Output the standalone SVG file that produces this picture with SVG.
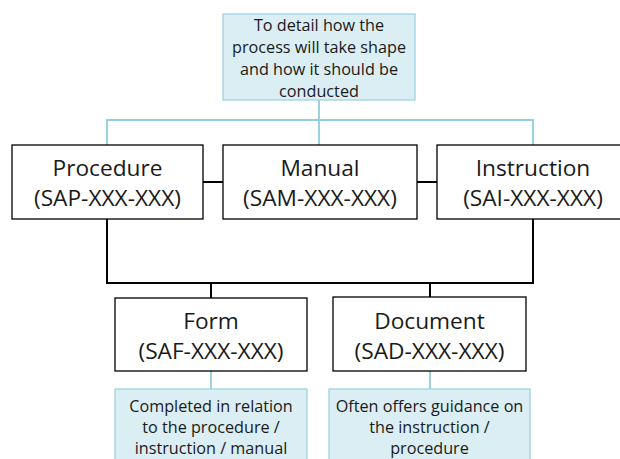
<svg xmlns="http://www.w3.org/2000/svg" width="620" height="459" viewBox="0 0 620 459">
<style>
.box{fill:#ffffff;stroke:#000000;stroke-width:1.3}
.note{fill:#DAEEF3;stroke:#9DD3E0;stroke-width:1.3}
.bl{fill:none;stroke:#000000;stroke-width:2}
.lb{fill:none;stroke:#92CDDC;stroke-width:1.8}
.t{font-family:"Open Sans","Noto Sans",sans-serif;font-size:22.7px;fill:#1a1a1a;text-anchor:middle}
.s{font-family:"Open Sans","Noto Sans",sans-serif;font-size:16.2px;fill:#1a1a1a;text-anchor:middle}
</style>
<rect width="620" height="459" fill="#ffffff"/>
<g id="connectors">
<polyline class="lb" points="107,145 107,120 533,120 533,145"/>
<line class="lb" x1="319" y1="100" x2="319" y2="145"/>
<line class="lb" x1="211" y1="371" x2="211" y2="389"/>
<line class="lb" x1="430" y1="371" x2="430" y2="389"/>
<line class="bl" x1="203" y1="182" x2="223" y2="182"/>
<line class="bl" x1="417" y1="182" x2="437" y2="182"/>
<polyline class="bl" points="107,219 107,283 533,283 533,219"/>
<line class="bl" x1="211" y1="283" x2="211" y2="298"/>
<line class="bl" x1="430" y1="283" x2="430" y2="297"/>
</g>
<g id="purpose">
<rect class="note" x="223" y="14" width="192" height="86"/>
<text class="s" x="319" y="31">To detail how the</text>
<text class="s" x="319" y="53">process will take shape</text>
<text class="s" x="319" y="75">and how it should be</text>
<text class="s" x="319" y="97">conducted</text>
</g>
<g id="procedure">
<rect class="box" x="12" y="145" width="191" height="74"/>
<text class="t" x="107.5" y="176">Procedure</text>
<text class="t" x="107.5" y="206">(SAP-XXX-XXX)</text>
</g>
<g id="manual">
<rect class="box" x="223" y="145" width="194" height="74"/>
<text class="t" x="320" y="176">Manual</text>
<text class="t" x="320" y="206">(SAM-XXX-XXX)</text>
</g>
<g id="instruction">
<rect class="box" x="437" y="145" width="193" height="74"/>
<text class="t" x="533" y="176">Instruction</text>
<text class="t" x="533" y="206">(SAI-XXX-XXX)</text>
</g>
<g id="form">
<rect class="box" x="115" y="298" width="192" height="73"/>
<text class="t" x="211" y="329">Form</text>
<text class="t" x="211" y="359">(SAF-XXX-XXX)</text>
</g>
<g id="document">
<rect class="box" x="333" y="297" width="193" height="74"/>
<text class="t" x="429.5" y="329">Document</text>
<text class="t" x="429.5" y="359">(SAD-XXX-XXX)</text>
</g>
<g id="form-note">
<rect class="note" x="115" y="389" width="192" height="80"/>
<text class="s" x="211" y="412">Completed in relation</text>
<text class="s" x="211" y="433">to the procedure /</text>
<text class="s" x="211" y="454">instruction / manual</text>
</g>
<g id="document-note">
<rect class="note" x="329" y="389" width="201" height="80"/>
<text class="s" x="429.5" y="412">Often offers guidance on</text>
<text class="s" x="429.5" y="433">the instruction /</text>
<text class="s" x="429.5" y="454">procedure</text>
</g>
</svg>
